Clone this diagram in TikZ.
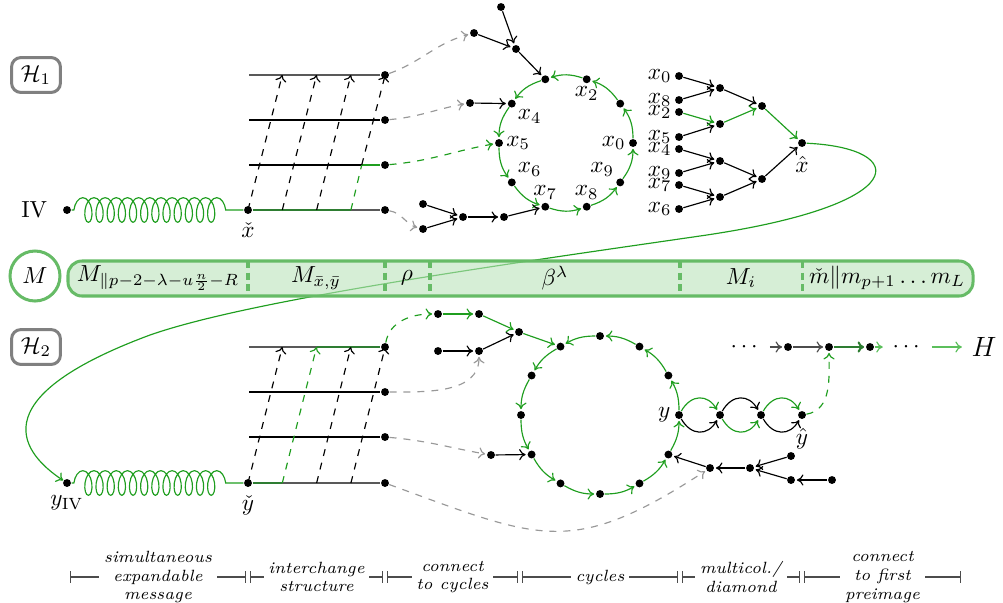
\documentclass[tikz,border=0pt]{standalone}
\usepackage{amsmath,amssymb}
\usepackage{tikz}
\usetikzlibrary{arrows.meta,positioning,calc,decorations.pathmorphing}
\definecolor{cgreen}{HTML}{1F9E1F}
\definecolor{dgreen}{HTML}{2E7D32}
\definecolor{lgreen}{HTML}{5CBF5C}
\definecolor{bline}{HTML}{66BB66}
\definecolor{bfill}{HTML}{BBE3BB}

\tikzset{
  dot/.style={circle, fill=black, inner sep=0pt, minimum size=3.4pt},
  hbox/.style={draw=black!50, line width=1.3pt, rounded corners=4pt, fill=white, minimum width=21pt, minimum height=15pt},
  arr/.style={->, shorten >=0.6pt},
  garr/.style={->, cgreen, shorten >=0.6pt},
  gdash/.style={->, dashed, black!40, shorten >=0.6pt},
  coilgreen/.style={cgreen, decorate, decoration={coil, amplitude=5.3pt, segment length=4.8pt, pre length=1pt, post length=6pt}},
  legtxt/.style={fill=white, font=\scriptsize\itshape, align=center, inner sep=2pt},
}

\begin{document}
\begin{tikzpicture}[x=0.43pt, y=-0.43pt, line width=0.5pt, >={To[length=2.8pt,width=4.8pt]}]
\useasboundingbox (0,0) rectangle (1003,602);

% first hash
\node[hbox] (hone) at (36,75) {$\mathcal{H}_1$};
\node[dot, label={[label distance=3pt]left:IV}] (iv) at (67,210) {};
\node[dot, label=below:$\check{x}$] (xc) at (248,210) {};
\foreach \i/\y in {1/75,2/120,3/165,4/210} {
  \coordinate (la\i) at (249,\y);
  \node[dot] (ra\i) at (385,\y) {};
}
\foreach \i in {0,...,3} {
  \coordinate (fa\i) at ({248+34.3*\i},210);
  \coordinate (ha\i) at ({282.3+34.3*\i},75);
}
\coordinate (ma) at (361.7,165);
\draw[coilgreen] (iv) -- (xc);
\draw[black!65] (la1) -- (ra1);
\draw (la2) -- (ra2);
\draw (la3) -- (ma);
\draw[cgreen] (ma) -- (ra3);
\draw[dgreen, line width=0.7pt] (xc) -- (fa3);
\draw[black!65] (fa3) -- (ra4);
\draw[->, dashed] (fa0) -- (ha0);
\draw[->, dashed] (fa1) -- (ha1);
\draw[->, dashed] (fa2) -- (ha2);
\draw[dashed, cgreen] (fa3) -- (ma);
\draw[->, dashed] (ma) -- (ha3);

% cycle of the first hash
\foreach \k in {0,...,9}
  \node[dot] (c\k) at ({566+67*cos(36*\k)},{143-67*sin(36*\k)}) {};
\foreach \k/\p in {0/left,2/below,4/below right,5/right,6/above right,7/above,8/above,9/above left}
  \node[\p=0pt of c\k, inner sep=1pt] {$x_\k$};
\foreach \k in {0,...,9} {
  \pgfmathtruncatemacro\nx{mod(\k+1,10)}
  \draw[garr] (c\k) to[bend right=18] (c\nx);
}
\node[dot] (ta) at (501,7) {};
\node[dot] (tb) at (474,33) {};
\node[dot] (tc) at (516,49) {};
\node[dot] (td) at (470,103) {};
\node[dot] (te) at (423,204) {};
\node[dot] (tf) at (423,229) {};
\node[dot] (tg) at (463,217) {};
\node[dot] (th) at (504,217) {};
\foreach \a/\b in {ta/tc,tb/tc,tc/c3,td/c4,te/tg,tf/tg,tg/th,th/c7}
  \draw[arr] (\a) -- (\b);
\draw[gdash] (ra1) to[out=20,in=195] (tb);
\draw[gdash] (ra2) to[out=5,in=190] (td);
\draw[gdash, cgreen] (ra3) to[out=5,in=190] (c5);
\draw[gdash] (ra4) to[out=-10,in=165] (tf);

% tree to the first preimage
\foreach \n/\y in {0/76,8/100,2/112,5/137,4/149,9/173,7/185,6/209}
  \node[dot, label={[inner sep=1pt]left:$x_\n$}] (lv\n) at (679,\y) {};
\node[dot] (ua) at (720,88) {};
\node[dot] (ub) at (720,124) {};
\node[dot] (uc) at (720,161) {};
\node[dot] (ud) at (720,197) {};
\node[dot] (va) at (762,106) {};
\node[dot] (vb) at (762,179) {};
\node[dot, label=below:$\hat{x}$] (xh) at (802,143) {};
\foreach \a/\b in {lv0/ua,lv8/ua,lv5/ub,lv4/uc,lv9/uc,lv7/ud,lv6/ud,ua/va,uc/vb,ud/vb,vb/xh}
  \draw[arr] (\a) -- (\b);
\foreach \a/\b in {lv2/ub,ub/va,va/xh}
  \draw[garr] (\a) -- (\b);

% second hash
\node[hbox] (htwo) at (36,347) {$\mathcal{H}_2$};
\node[dot, label=below:$y_{\mathrm{IV}}$] (yiv) at (67,483) {};
\node[dot, label=below:$\check{y}$] (yc) at (248,483) {};
\foreach \i/\y in {1/347,2/392,3/437,4/483} {
  \coordinate (lb\i) at (249,\y);
  \node[dot] (rb\i) at (385,\y) {};
}
\foreach \i in {0,...,3} {
  \coordinate (fb\i) at ({248+34.3*\i},483);
  \coordinate (hb\i) at ({282.3+34.3*\i},347);
}
\draw[coilgreen] (yiv) -- (yc);
\draw[black!65] (lb1) -- (hb1);
\draw[dgreen, line width=0.7pt] (hb1) -- (rb1);
\draw (lb2) -- (rb2);
\draw (lb3) -- (rb3);
\draw[dgreen, line width=0.7pt] (yc) -- (fb1);
\draw[black!65] (fb1) -- (rb4);
\draw[->, dashed] (fb0) -- (hb0);
\draw[->, dashed, cgreen] (fb1) -- (hb1);
\draw[->, dashed] (fb2) -- (hb2);
\draw[->, dashed] (fb3) -- (hb3);

% long link from the first preimage to the second hash
\draw[->, cgreen] (xh) .. controls (910,148) and (915,205) .. (700,236)
  .. controls (500,265) and (250,300) .. (150,335)
  .. controls (-25,400) and (25,455) .. (yiv);

% message blocks
\node[circle, draw=bline, line width=1.3pt, fill=white, minimum size=21.5pt, inner sep=0pt] (mm) at (35,276) {$M$};
\draw[bline, line width=1.3pt, fill=bfill, fill opacity=0.6, rounded corners=6pt] (68,261) rectangle (973,296);
\foreach \x in {248,385,430,680,802}
  \draw[bline, line width=1.3pt, dash pattern=on 3pt off 2pt] (\x,261) -- (\x,296);
\node at (158,278) {$M_{\|p-2-\lambda-u\frac{n}{2}-R}$};
\node at (316,278) {$M_{\bar{x},\bar{y}}$};
\node at (407,278) {$\rho$};
\node at (555,278) {$\beta^{\lambda}$};
\node at (741,278) {$M_i$};
\node at (887,278) {$\check{m}\|m_{p+1}\dots m_L$};

% cycle of the second hash
\node[dot] (pa) at (438,314) {};
\node[dot] (pb) at (479,314) {};
\node[dot] (pc) at (438,351) {};
\node[dot] (pd) at (479,351) {};
\node[dot] (pe) at (519,332) {};
\node[dot] (pf) at (491,455) {};
\foreach \k in {0,...,11}
  \node[dot] (d\k) at ({600+79*cos(30*\k)},{415-79*sin(30*\k)}) {};
\node[left=0pt of d0, inner sep=1.5pt] {$y$};
\foreach \k in {0,...,11} {
  \pgfmathtruncatemacro\nx{mod(\k+1,12)}
  \draw[garr] (d\k) to[bend right=15] (d\nx);
}
\foreach \a/\b in {pa/pb,pb/pe,pe/d4}
  \draw[garr] (\a) -- (\b);
\foreach \a/\b in {pc/pd,pd/pe,pf/d7}
  \draw[arr] (\a) -- (\b);
\draw[gdash, cgreen] (rb1) to[out=80,in=180] (pa);
\draw[gdash] (rb2) to[out=0,in=-90] (pd);
\draw[gdash] (rb3) to[out=-5,in=170] (pf);

% multicollision
\node[dot] (m1) at (720,415) {};
\node[dot] (m2) at (761,415) {};
\node[dot, label=below:$\hat{y}$] (yh) at (802,415) {};
\draw[garr] (d0) to[out=60,in=120,looseness=1.4] (m1);
\draw[arr] (d0) to[out=-60,in=-120,looseness=1.4] (m1);
\draw[arr] (m1) to[out=60,in=120,looseness=1.4] (m2);
\draw[garr] (m1) to[out=-60,in=-120,looseness=1.4] (m2);
\draw[garr] (m2) to[out=60,in=120,looseness=1.4] (yh);
\draw[arr] (m2) to[out=-60,in=-120,looseness=1.4] (yh);

\node[dot] (qa) at (832,480) {};
\node[dot] (qb) at (791,480) {};
\node[dot] (qc) at (791,456) {};
\node[dot] (qe) at (750,468) {};
\node[dot] (qf) at (710,468) {};
\foreach \a/\b in {qa/qb,qb/qe,qc/qe,qe/qf,qf/d11}
  \draw[arr] (\a) -- (\b);
\draw[gdash] (rb4) to[out=-20,in=213,looseness=1.3] (qf);

% connect to the first preimage
\node (ld) at (746,347) {$\cdots$};
\node[dot] (kb) at (788,347) {};
\node[dot] (ka) at (829,347) {};
\node[dot] (kc) at (870,347) {};
\node (rd) at (908,347) {$\cdots$};
\node[font=\large] (hh) at (984,347) {$H$};
\draw[arr, black!70] (ld) -- (kb);
\draw[arr, black!70] (kb) -- (ka);
\draw[arr, dgreen, line width=0.9pt] (ka) -- (kc);
\draw[arr, lgreen] (kc) -- (rd);
\draw[arr, lgreen] (rd) -- (hh);
\draw[gdash, cgreen] (yh) to[out=10,in=-90] (ka);

% legend
\foreach \i/\x in {0/68,1/248,2/385,3/520,4/680,5/802,6/963}
  \coordinate (g\i) at (\x,577);
\foreach \a/\b/\txt in {0/1/{simultaneous\\expandable\\message},1/2/{interchange\\structure},2/3/{connect\\to cycles},3/4/{cycles},4/5/{multicol./\\diamond},5/6/{connect\\to first\\preimage}}
  \draw[{Bar[width=5pt]}-{Bar[width=5pt]}, black!70] ([xshift=0.9pt]g\a) -- ([xshift=-0.9pt]g\b) node[midway, legtxt, text=black] {\txt};
\end{tikzpicture}
\end{document}
